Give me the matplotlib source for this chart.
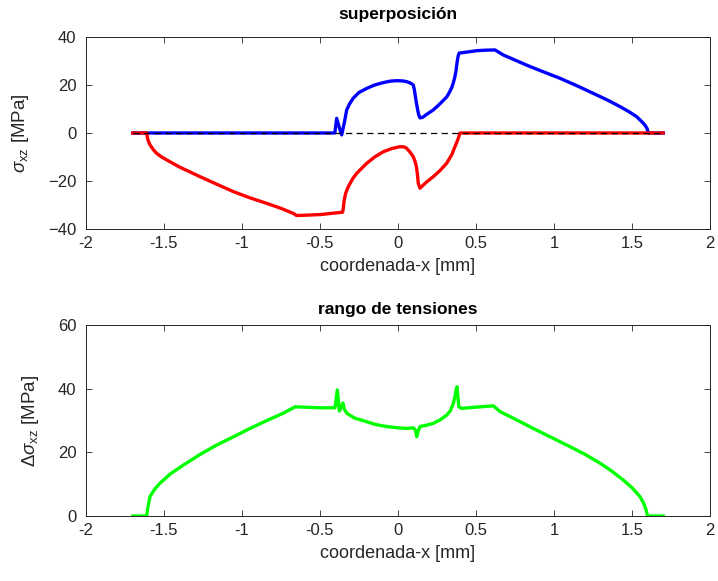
import matplotlib
matplotlib.use("Agg")
import matplotlib.pyplot as plt

plt.rcParams['font.family'] = ['Liberation Sans', 'DejaVu Sans']
plt.rcParams['mathtext.fontset'] = 'custom'
plt.rcParams['mathtext.rm'] = 'Liberation Sans'
plt.rcParams['mathtext.it'] = 'Liberation Sans:italic'
plt.rcParams['mathtext.bf'] = 'Liberation Sans:bold'

# Upper stress envelope (blue)
x_max = [-1.70, -0.405, -0.393, -0.375, -0.361, -0.345, -0.329, -0.31, -0.287, -0.25,
         -0.20, -0.15, -0.094, -0.05, -0.008, 0.03, 0.056, 0.08, 0.098, 0.105,
         0.112, 0.118, 0.125, 0.132, 0.141, 0.16, 0.18, 0.226, 0.26, 0.312,
         0.33, 0.345, 0.355, 0.365, 0.372, 0.38, 0.386, 0.392, 0.45, 0.504,
         0.56, 0.622, 0.675, 0.75, 0.824, 0.9, 1.038, 1.15, 1.252, 1.35,
         1.423, 1.48, 1.53, 1.56, 1.583, 1.597, 1.605, 1.70]
s_max = [0, 0, 6.1, 2.0, -0.8, 4.0, 9.6, 12.2, 14.5, 16.9,
         18.6, 20.0, 21.0, 21.6, 21.8, 21.7, 21.4, 20.8, 20.0, 18.0,
         15.0, 12.5, 10.0, 7.8, 6.3, 6.6, 7.6, 9.6, 11.6, 15.0,
         17.0, 19.0, 21.0, 23.5, 26.0, 30.0, 32.2, 33.3, 33.8, 34.3,
         34.5, 34.6, 32.5, 30.4, 28.3, 26.3, 22.8, 19.6, 16.5, 13.5,
         11.0, 8.9, 6.8, 4.9, 3.3, 1.8, 0, 0]

# Lower stress envelope (red)
x_min = [-1.70, -1.611, -1.605, -1.60, -1.59, -1.57, -1.55, -1.52, -1.483, -1.40,
         -1.269, -1.16, -1.056, -0.95, -0.842, -0.75, -0.671, -0.65, -0.50, -0.355,
         -0.35, -0.345, -0.335, -0.319, -0.29, -0.265, -0.20, -0.15, -0.094, -0.04,
         0.013, 0.04, 0.056, 0.075, 0.098, 0.11, 0.118, 0.125, 0.13, 0.141,
         0.18, 0.226, 0.27, 0.312, 0.345, 0.365, 0.378, 0.388, 0.397, 1.70]
s_min = [0, 0, -2.3, -3.4, -4.9, -6.8, -8.3, -9.8, -11.2, -14.2,
         -18.2, -21.4, -24.4, -27.0, -29.3, -31.4, -33.5, -34.4, -34.0, -33.0,
         -31.0, -28.0, -25.0, -22.4, -19.0, -16.8, -12.6, -10.0, -7.8, -6.5,
         -5.7, -5.8, -6.4, -7.8, -9.9, -12.0, -14.0, -17.5, -21.0, -23.0,
         -20.6, -18.2, -15.6, -12.6, -9.0, -5.7, -3.7, -1.9, 0, 0]

# Stress range (green)
x_rng = [-1.70, -1.611, -1.605, -1.60, -1.59, -1.56, -1.526, -1.46, -1.376, -1.27,
         -1.162, -1.05, -0.949, -0.84, -0.735, -0.66, -0.50, -0.404, -0.389, -0.376,
         -0.366, -0.353, -0.343, -0.329, -0.28, -0.20, -0.14, -0.072, 0.0, 0.056,
         0.098, 0.112, 0.12, 0.128, 0.141, 0.18, 0.226, 0.27, 0.312, 0.335,
         0.355, 0.365, 0.372, 0.378, 0.39, 0.408, 0.5, 0.611, 0.654, 0.76,
         0.867, 0.97, 1.081, 1.19, 1.295, 1.37, 1.444, 1.50, 1.551, 1.575,
         1.59, 1.60, 1.70]
ds = [0, 0, 2.3, 3.5, 6.1, 8.4, 10.3, 13.2, 16.0, 19.3,
      22.3, 25.0, 27.5, 30.0, 32.3, 34.3, 34.0, 34.0, 39.6, 33.0,
      34.0, 35.5, 33.5, 32.3, 30.8, 29.6, 28.7, 28.1, 27.7, 27.5,
      27.7, 27.0, 24.9, 26.5, 28.1, 28.5, 29.1, 30.2, 31.7, 33.0,
      35.4, 37.5, 39.5, 40.6, 34.3, 33.8, 34.2, 34.6, 32.8, 30.2,
      27.5, 25.0, 22.3, 19.6, 16.6, 14.1, 11.3, 8.9, 6.1, 4.0,
      2.0, 0, 0]

x_ref = [-1.70, 1.70]
s_ref = [0, 0]

x_ticks = [-2, -1.5, -1, -0.5, 0, 0.5, 1, 1.5, 2]
x_ticklabels = ['-2', '-1.5', '-1', '-0.5', '0', '0.5', '1', '1.5', '2']

fig = plt.figure(figsize=(7.18, 5.81), dpi=100)
ax1 = fig.add_axes([86/718, 1 - 229/581, 624/718, 192/581])
ax2 = fig.add_axes([86/718, 1 - 516/581, 624/718, 191/581])

axc = '#262626'

def style(ax):
    ax.set_xlim(-2, 2)
    ax.set_xticks(x_ticks)
    ax.set_xticklabels(x_ticklabels)
    ax.tick_params(direction='in', length=4, width=0.6, colors=axc,
                   labelsize=12, top=True, right=True, pad=5,
                   labelcolor=axc)
    ax.tick_params(axis='y', pad=7)
    for sp in ax.spines.values():
        sp.set_color(axc)
        sp.set_linewidth(0.7)
    ax.set_xlabel('coordenada-x [mm]', fontsize=13, color=axc, labelpad=5)

ax1.plot(x_max, s_max, color='#0000ff', lw=2.4, solid_joinstyle='round')
ax1.plot(x_min, s_min, color='#ff0000', lw=2.4, solid_joinstyle='round')
ax1.plot(x_ref, s_ref, color='k', lw=0.9, ls=(0, (5, 3.5)))
style(ax1)
ax1.set_ylim(-40, 40)
ax1.set_yticks([-40, -20, 0, 20, 40])
ax1.set_ylabel(r'$\sigma_{\mathrm{xz}}$ [MPa]', fontsize=13.5, color=axc, labelpad=12)
ax1.set_title('superposición', fontsize=12.5, fontweight='bold', color='k', pad=13)

ax2.plot(x_rng, ds, color='#00ff00', lw=2.4, solid_joinstyle='round')
style(ax2)
ax2.set_ylim(0, 60)
ax2.set_yticks([0, 20, 40, 60])
ax2.set_ylabel(r'$\Delta\sigma_{\mathrm{xz}}$ [MPa]', fontsize=13.5, color=axc, labelpad=12)
ax2.set_title('rango de tensiones', fontsize=12.5, fontweight='bold', color='k', pad=8)

fig.savefig('out.png', dpi=100, facecolor='white')
